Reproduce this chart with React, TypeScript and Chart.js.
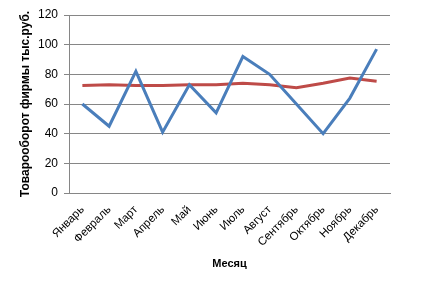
import React, { useEffect, useRef } from "react";
import { Chart, registerables } from "chart.js";

Chart.register(...registerables);

const months = ["Январь", "Февраль", "Март", "Апрель", "Май", "Июнь", "Июль", "Август", "Сентябрь", "Октябрь", "Ноябрь", "Декабрь"];
const turnover = [60, 45, 82, 41, 73, 54, 92, 80, 60, 40, 64, 97];
const trend = [72.5, 73, 72.5, 72.5, 73, 73, 74, 73, 71, 74, 77.5, 75.3];
const yTitle = "Товарооборот фирмы тыс.руб.";
const xTitle = "Месяц";

const FONT = "'Liberation Sans', Arial, sans-serif";

export default function App() {
  const ref = useRef<HTMLCanvasElement>(null);
  useEffect(() => {
    if (!ref.current) return;
    const chart = new Chart(ref.current, {
      type: "line",
      data: {
        labels: months,
        datasets: [
          { data: turnover, borderColor: "#4A7EBB", borderWidth: 3, pointRadius: 0, tension: 0, fill: false },
          { data: trend, borderColor: "#BE4B48", borderWidth: 3, pointRadius: 0, tension: 0, fill: false },
        ],
      },
      options: {
        responsive: false,
        animation: false,
        layout: { padding: { top: 15, right: 37, left: 0, bottom: 0 } },
        plugins: { legend: { display: false }, tooltip: { enabled: false } },
        scales: {
          x: {
            offset: true,
            grid: { display: false },
            border: { display: true, color: "#868686", width: 1 },
            ticks: { color: "#000", font: { family: FONT, size: 11.5 }, minRotation: 45, maxRotation: 45, autoSkip: false, padding: 2 },
            title: { display: true, text: xTitle, color: "#000", font: { family: FONT, size: 11, weight: "bold" }, padding: { top: 0, bottom: 28 } },
            afterFit: (s: any) => { s.height = 106; },
          },
          y: {
            min: 0,
            max: 120,
            ticks: { stepSize: 20, color: "#000", font: { family: FONT, size: 12 }, padding: 6 },
            grid: { color: "#868686", lineWidth: 1, tickLength: 5, drawTicks: true },
            border: { display: true, color: "#868686", width: 1 },
            title: { display: true, text: yTitle, color: "#000", font: { family: FONT, size: 12, weight: "bold" }, padding: { top: 18, bottom: 0 } },
            afterFit: (s: any) => { s.width = 69; },
          },
        },
      },
    });
    return () => chart.destroy();
  }, []);
  return (
    <canvas
      ref={ref}
      width={427}
      height={299}
      style={{ position: "absolute", left: 0, top: 0, width: 427, height: 299, background: "#fff" }}
    />
  );
}
